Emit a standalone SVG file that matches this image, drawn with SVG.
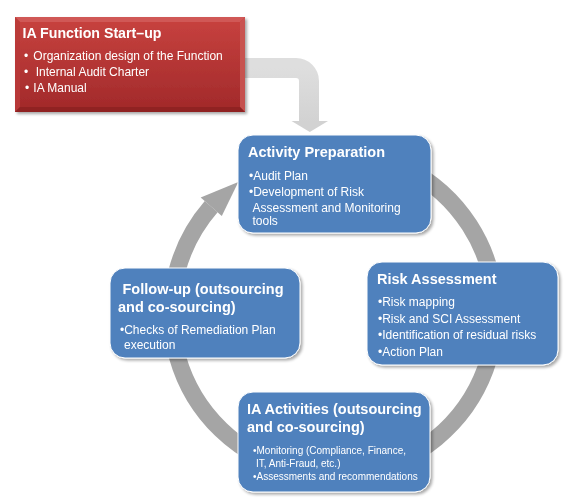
<svg xmlns="http://www.w3.org/2000/svg" width="571" height="504" viewBox="0 0 571 504">
<defs>
<linearGradient id="red" x1="0" y1="0" x2="0" y2="1">
<stop offset="0" stop-color="#c8423f"/>
<stop offset="1" stop-color="#a1292a"/>
</linearGradient>
<linearGradient id="grayArrow" x1="0" y1="0" x2="0" y2="1">
<stop offset="0" stop-color="#dedede"/>
<stop offset="1" stop-color="#d2d2d2"/>
</linearGradient>
<filter id="sh" x="-10%" y="-10%" width="130%" height="140%">
<feGaussianBlur in="SourceAlpha" stdDeviation="1.5"/>
<feOffset dx="1.5" dy="2" result="b"/>
<feComponentTransfer><feFuncA type="linear" slope="0.35"/></feComponentTransfer>
<feMerge><feMergeNode/><feMergeNode in="SourceGraphic"/></feMerge>
</filter>
</defs>
<style>
.box{fill:#4f81bd;stroke:#ffffff;stroke-width:1;}
.t{font-family:"Liberation Sans",Arial,sans-serif;fill:#ffffff;}
.h{font-weight:bold;font-size:14.5px;}
.b{font-size:12px;}
.s{font-size:10px;}
.ring{fill:none;stroke:#a5a5a5;stroke-width:17;}
</style>
<rect width="571" height="504" fill="#ffffff"/>

<g id="connectors">
<path d="M 236 68 H 296 A 13 13 0 0 1 309 81 V 122" fill="none" stroke="url(#grayArrow)" stroke-width="20"/>
<polygon points="291.5,121 328,121 309.8,132" fill="#d2d2d2"/>
<path class="ring" d="M 252.5 172.7 A 162 162 0 1 1 211.2 206.7"/>
<polygon points="200.7,197.5 238.3,181.9 221.8,215.9" fill="#a5a5a5"/>
</g>

<g id="startup" filter="url(#sh)">
<rect x="15" y="17" width="230" height="95" fill="url(#red)"/>
<polygon points="15,17 245,17 240,22 20,22" fill="#d25f5c" opacity="0.8"/>
<polygon points="15,17 20,22 20,107 15,112" fill="#b93a38" opacity="0.9"/>
<polygon points="245,17 245,112 240,107 240,22" fill="#c95553" opacity="0.9"/>
<polygon points="15,112 245,112 240,107 20,107" fill="#8e2221" opacity="0.9"/>
<text class="t" x="22.5" y="37.5" font-weight="bold" font-size="14.2px">IA Function Start–up</text>
<text class="t b" x="24" y="59.5">•</text>
<text class="t b" x="33.3" y="59.5">Organization design of the Function</text>
<text class="t b" x="24" y="75.5">•</text>
<text class="t b" x="35.7" y="75.5">Internal Audit Charter</text>
<text class="t b" x="25" y="92">•</text>
<text class="t b" x="33.3" y="92">IA Manual</text>
</g>

<g id="activity-preparation" filter="url(#sh)">
<rect class="box" x="238" y="135" width="193" height="98" rx="15" ry="15"/>
<text class="t h" x="248" y="157">Activity Preparation</text>
<text class="t b" x="249" y="179.5">•Audit Plan</text>
<text class="t b" x="249" y="196">•Development of Risk</text>
<text class="t b" x="252.5" y="211.5">Assessment and Monitoring</text>
<text class="t b" x="252.5" y="225">tools</text>
</g>

<g id="risk-assessment" filter="url(#sh)">
<rect class="box" x="367" y="262" width="191" height="103" rx="15" ry="15"/>
<text class="t h" x="377" y="283.5">Risk Assessment</text>
<text class="t b" x="378" y="306">•Risk mapping</text>
<text class="t b" x="378" y="322.5">•Risk and SCI Assessment</text>
<text class="t b" x="378" y="339">•Identification of residual risks</text>
<text class="t b" x="378" y="355.5">•Action Plan</text>
</g>

<g id="follow-up" filter="url(#sh)">
<rect class="box" x="110" y="268" width="190" height="90" rx="15" ry="15"/>
<text class="t h" x="122.5" y="293.5">Follow-up (outsourcing</text>
<text class="t h" x="118" y="312">and co-sourcing)</text>
<text class="t b" x="120" y="334" font-size="11.5px">•Checks of Remediation Plan</text>
<text class="t b" x="124" y="348.5" font-size="11.5px">execution</text>
</g>

<g id="ia-activities" filter="url(#sh)">
<rect class="box" x="238" y="392" width="192" height="100" rx="15" ry="15"/>
<text class="t h" x="247" y="413.5" font-size="15px">IA Activities (outsourcing</text>
<text class="t h" x="247" y="432" font-size="15px">and co-sourcing)</text>
<text class="t s" x="253" y="453.5">•Monitoring (Compliance, Finance,</text>
<text class="t s" x="256" y="467">IT, Anti-Fraud, etc.)</text>
<text class="t s" x="253" y="480">•Assessments and recommendations</text>
</g>
</svg>
